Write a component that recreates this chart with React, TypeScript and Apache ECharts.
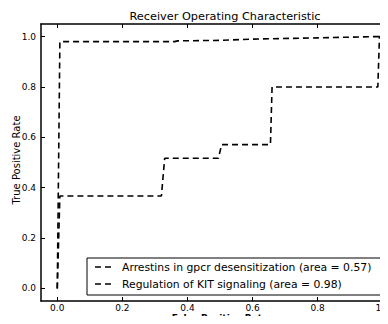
import React, { useEffect, useRef } from "react";
import * as echarts from "echarts";

const xTicks = [0.0, 0.2, 0.4, 0.6, 0.8, 1.0];
const yTicks = [0.0, 0.2, 0.4, 0.6, 0.8, 1.0];

const arrestinsFpr = [0, 0.008, 0.32, 0.33, 0.495, 0.505, 0.655, 0.66, 0.985, 0.99, 1.0];
const arrestinsTpr = [0, 0.367, 0.367, 0.517, 0.517, 0.571, 0.571, 0.8, 0.8, 1.0, 1.0];

const kitFpr = [0, 0.008, 0.36, 0.37, 0.5, 0.6, 0.8, 0.98, 1.0];
const kitTpr = [0, 0.98, 0.98, 0.983, 0.985, 0.99, 0.995, 1.0, 1.0];

const seriesNames = [
  "Arrestins in gpcr desensitization (area = 0.57)",
  "Regulation of KIT signaling (area = 0.98)",
];

const xAxisName = "False Positive Rate";
const yAxisName = "True Positive Rate";

const FONT = "DejaVu Sans";

export default function App() {
  const ref = useRef<HTMLDivElement>(null);
  useEffect(() => {
    if (!ref.current) return;
    const chart = echarts.init(ref.current, undefined, { renderer: "svg" });
    const fmt = (v: number) => v.toFixed(1);
    const lineStyle = { color: "#000", width: 1.6, type: [6, 4] as any };
    const axisCommon = {
      type: "value" as const,
      min: -0.05,
      max: 1.05,
      splitLine: { show: false },
      axisLine: { show: true, onZero: false, lineStyle: { color: "#000", width: 1.5 } },
      axisTick: { show: true, inside: true, length: 4, lineStyle: { color: "#000", width: 1 } },
      axisLabel: { color: "#000", fontFamily: FONT, fontSize: 9, margin: 2 },
    };
    chart.setOption({
      animation: false,
      backgroundColor: "#fff",
      title: {
        text: "Receiver Operating Characteristic",
        left: 220,
        textAlign: "center",
        top: 6,
        textStyle: { fontFamily: FONT, fontSize: 11.3, fontWeight: "normal", color: "#000" },
      },
      grid: { left: 41, top: 24, right: -11, bottom: 23, containLabel: false, outerBoundsMode: "none" },
      xAxis: [
        {
          ...axisCommon,
          position: "bottom",
          axisLabel: {
            ...axisCommon.axisLabel,
            customValues: xTicks,
            formatter: fmt,
          },
          axisTick: { ...axisCommon.axisTick, customValues: xTicks },
        },
        {
          ...axisCommon,
          position: "top",
          axisLabel: { show: false },
          axisTick: { ...axisCommon.axisTick, customValues: xTicks },
        },
      ],
      yAxis: [
        {
          ...axisCommon,
          position: "left",
          axisLabel: {
            ...axisCommon.axisLabel,
            margin: 5,
            customValues: yTicks,
            formatter: fmt,
          },
          axisTick: { ...axisCommon.axisTick, customValues: yTicks },
        },
        {
          ...axisCommon,
          position: "right",
          axisLabel: { show: false },
          axisTick: { ...axisCommon.axisTick, customValues: yTicks },
        },
      ],
      series: [
        {
          name: seriesNames[0],
          type: "line",
          symbol: "none",
          lineStyle,
          data: arrestinsFpr.map((x, i) => [x, arrestinsTpr[i]]),
        },
        {
          name: seriesNames[1],
          type: "line",
          symbol: "none",
          lineStyle,
          data: kitFpr.map((x, i) => [x, kitTpr[i]]),
        },
      ],
      graphic: [
        {
          type: "text",
          x: 220,
          y: 318,
          z: 20,
          style: {
            text: xAxisName,
            fontFamily: FONT,
            fontSize: 9,
            fontWeight: "bold",
            fill: "#000",
            align: "center",
            verticalAlign: "middle",
          },
        },
        {
          type: "text",
          x: 16,
          y: 160,
          rotation: Math.PI / 2,
          style: {
            text: yAxisName,
            fontFamily: FONT,
            fontSize: 10,
            fill: "#000",
            align: "center",
            verticalAlign: "middle",
          },
        },
        {
          type: "rect",
          shape: { x: 87, y: 258, width: 308, height: 37 },
          style: { fill: "#fff", stroke: "#000", lineWidth: 1 },
          z: 10,
        },
        ...seriesNames.map((name, i) => ({
          type: "group",
          z: 11,
          children: [
            {
              type: "line",
              shape: { x1: 95, y1: 267 + i * 17, x2: 111, y2: 267 + i * 17 },
              style: { stroke: "#000", lineWidth: 1.6, lineDash: [6, 4] },
              z: 11,
            },
            {
              type: "text",
              x: 122,
              y: 267 + i * 17,
              style: {
                text: name,
                fontFamily: FONT,
                fontSize: 10.8,
                fill: "#000",
                verticalAlign: "middle",
              },
              z: 11,
            },
          ],
        })),
      ],
    });
    return () => chart.dispose();
  }, []);
  return <div ref={ref} style={{ width: 388, height: 324, margin: -8 }} />;
}
